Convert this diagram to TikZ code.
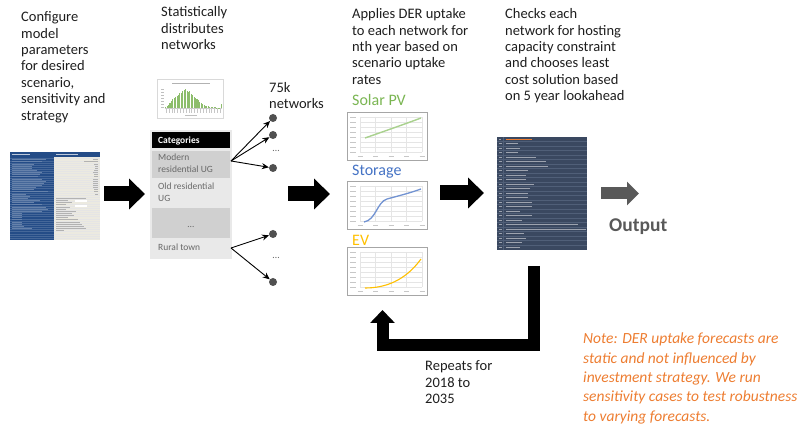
\documentclass[tikz,border=0pt]{standalone}
\usepackage{fontspec}
\setmainfont{Carlito}
\usetikzlibrary{arrows.meta}

\definecolor{txtdark}{RGB}{30,30,30}
\definecolor{catgray}{RGB}{105,105,105}
\definecolor{rowdark}{RGB}{208,208,208}
\definecolor{rowlight}{RGB}{233,233,233}
\definecolor{dotgray}{RGB}{80,80,80}
\definecolor{solargreen}{RGB}{122,181,82}
\definecolor{solarline}{RGB}{169,209,142}
\definecolor{storeblue}{RGB}{68,114,196}
\definecolor{storeline}{RGB}{114,147,210}
\definecolor{evgold}{RGB}{255,192,0}
\definecolor{notecol}{RGB}{237,125,49}
\definecolor{outgray}{RGB}{89,89,89}
\definecolor{cfgblue}{RGB}{36,76,135}
\definecolor{cfgbeige}{RGB}{236,234,224}
\definecolor{optbg}{RGB}{58,72,96}
\definecolor{optline}{RGB}{80,95,120}
\definecolor{histgreen}{RGB}{112,173,71}

\tikzset{
  desc/.style={anchor=north west, align=left, inner sep=0pt, text=txtdark,
    font=\fontsize{14.5}{16.4}\selectfont},
  cattext/.style={anchor=north west, align=left, inner sep=0pt, text=catgray,
    font=\fontsize{9.5}{11.5}\selectfont},
  netdot/.style={circle, fill=dotgray, inner sep=0pt, minimum size=8pt},
  fanarrow/.style={-{Stealth[length=7pt,width=6pt]}, line width=0.9pt, black},
  bigarrow/.style={line width=15pt, -{Triangle[length=16pt,width=30pt]}},
  chartbox/.style={draw=black!35, line width=0.6pt, fill=white},
  gridline/.style={draw=black!10, line width=0.3pt},
  ticklabel/.style={draw=black!22, line width=0.5pt},
  serieslabel/.style={anchor=west, inner sep=0pt, font=\fontsize{16}{18}\selectfont}
}

\begin{document}
\begin{tikzpicture}[x=1pt,y=-1pt]
\useasboundingbox (0,0) rectangle (807,430);

% ---------- step descriptions ----------
\node[desc] (t1) at (21,11.5) {Configure\\model\\parameters\\for desired\\scenario,\\sensitivity and\\strategy};
\node[desc] (t2) at (161,6.5) {Statistically\\distributes\\networks};
\node[desc] (t3) at (352,8.5) {Applies DER uptake\\to each network for\\nth year based on\\scenario uptake\\rates};
\node[desc] (t4) at (505,8.5) {Checks each\\network for hosting\\capacity constraint\\and chooses least\\cost solution based\\on 5 year lookahead};

% ---------- configuration sheet ----------
\fill[cfgblue] (10,152) rectangle (54,240);
\fill[cfgbeige] (54,157) rectangle (100,240);
\fill[cfgblue] (54,152) rectangle (100,157);
\foreach \k in {0,...,37}
  \draw[line width=0.2pt, draw=cfgblue!85!white] (10,{158.5+\k*2.15}) -- (54,{158.5+\k*2.15});
\foreach \k in {0,...,37}
  \draw[line width=0.2pt, draw=black!10] (54,{158.5+\k*2.15}) -- (100,{158.5+\k*2.15});
\draw[white!70!cfgblue, line width=0.8pt] (11.5,154.5) -- ++(18,0);
\draw[white!70!cfgblue, line width=0.8pt] (56,154.5) -- ++(22,0);
\foreach \l [count=\k] in {34,30,22,20,20,25,30,28,26,30,34,32,30,24,22,36,14,18,16,28,22,30,34,36,30,10,10,10,10,10,10,12,20}
  \draw[white!30!cfgblue, line width=0.6pt] (11.5,{157.4+\k*2.15}) -- ++(\l,0);
\foreach \l [count=\k] in {5,14,4,3,3,4,5,4,4,5,5,5,5,5,4,4,3}
  \draw[black!30, line width=0.6pt] (98,{157.4+\k*2.15}) -- ++(-\l,0);
\foreach \l [count=\k from 19] in {30,12,16,10,14,10,20,16,18,12,22,24,26,28,30,8}
  \draw[black!30, line width=0.6pt] (56,{157.4+\k*2.15}) -- ++(\l,0);
\fill[white] (75,200) rectangle (87,202.5);
\fill[white] (75,205) rectangle (87,207.5);

% ---------- histogram ----------
\node[draw=black!15, line width=0.4pt, minimum width=66pt, minimum height=39pt, inner sep=0pt] (hist) at (190.5,99) {};
\draw[black!30, line width=0.6pt] (172,83.5) -- (210,83.5);
\foreach \k in {0,...,6}
  \draw[black!25, line width=0.5pt] (161,{89+\k*3}) -- (164,{89+\k*3});
\draw[black!20, line width=0.3pt] (165,108) -- (222,108);
\foreach \h [count=\i] in {0.05,0.1,0.18,0.28,0.35,0.45,0.5,0.6,0.62,0.7,0.8,0.78,0.9,0.95,1.0,0.92,0.85,0.9,0.75,0.7,0.6,0.55,0.45,0.4,0.32,0.28,0.22,0.18,0.12,0.1,0.08,0.06,0.05,0.04,0.03,0.03,0.02,0.02,0.02,0.2}
  \fill[histgreen!80] ({163.8+\i*1.42},108) rectangle ++(1.05,{-19*\h});
\foreach \k in {0,...,19}
  \draw[black!22, line width=0.4pt] ({166+\k*2.85},109.5) -- ++(0,3.5);
\draw[black!25, line width=0.5pt] (185,115.5) -- (197,115.5);

% ---------- categories table ----------
\fill[rowlight] (150,130) rectangle (232,259);
\fill[black] (152,132) rectangle (230,148);
\node[anchor=west, inner sep=0pt, text=white, font=\bfseries\fontsize{9.5}{11}\selectfont] (cathead) at (158,140.5) {Categories};
\fill[rowdark] (152,151) rectangle (230,178);
\fill[rowlight] (152,178) rectangle (230,208);
\fill[rowdark] (152,208) rectangle (230,238);
\fill[rowlight] (152,238) rectangle (230,257);
\node[cattext] (cat1) at (158,154) {Modern\\residential UG};
\node[cattext] (cat2) at (158,183) {Old residential\\UG};
\node[anchor=center, inner sep=0pt, text=catgray, font=\fontsize{9.5}{11}\selectfont] (cat3) at (191,227) {\dots};
\node[cattext] (cat4) at (158,244) {Rural town};
\coordinate (fan1) at (231,161);
\coordinate (fan2) at (231,248);

% ---------- network dots ----------
\node[desc] (nets) at (269,82) {75k\\networks};
\node[netdot] (d1) at (273,118) {};
\node[netdot] (d2) at (273,135) {};
\node[netdot] (d3) at (273,168) {};
\node[netdot] (d4) at (273,234) {};
\node[netdot] (d5) at (273,282) {};
\node[inner sep=0pt, text=catgray, font=\fontsize{10}{11}\selectfont] at (276,151) {\dots};
\node[inner sep=0pt, text=catgray, font=\fontsize{10}{11}\selectfont] at (276,258) {\dots};
\draw[fanarrow] (fan1) -- (d1);
\draw[fanarrow] (fan1) -- (d2);
\draw[fanarrow] (fan1) -- (d3);
\draw[fanarrow] (fan2) -- (d4);
\draw[fanarrow] (fan2) -- (d5);

% ---------- uptake charts ----------
\node[serieslabel, text=solargreen] (lsolar) at (352,100) {Solar PV};
\node[serieslabel, text=storeblue] (lstore) at (352,172) {Storage};
\node[serieslabel, text=evgold] (lev) at (352,240) {EV};

\foreach \top/\nm in {112/csolar,181/cstore,247/cev} {
  \node[chartbox, anchor=north west, minimum width=80pt, minimum height=48pt, inner sep=0pt] (\nm) at (347,\top) {};
  \foreach \k in {0,...,7}
    \draw[gridline] (360,{\top+5+\k*5}) -- (422,{\top+5+\k*5});
  \foreach \k in {0,...,4}
    \draw[gridline] ({360+\k*15.5},{\top+5}) -- ({360+\k*15.5},{\top+40});
  \foreach \k in {0,...,7}
    \draw[ticklabel] (350,{\top+5+\k*5}) -- (356,{\top+5+\k*5});
  \foreach \k in {0,...,4}
    \draw[ticklabel] ({357.5+\k*15.5},{\top+44}) -- ++(5,0);
}
\draw[solarline, line width=1.4pt] (365,138) .. controls (385,131) and (405,124) .. (421,118);
\draw[storeline, line width=1.3pt] (364,222) .. controls (376,220) and (377,202) .. (387,199)
      .. controls (398,196) and (410,193) .. (421,189);
\draw[evgold, line width=1.1pt] (365,288) .. controls (385,288) and (405,281) .. (421,259);

% ---------- options sheet ----------
\node[fill=optbg, anchor=north west, minimum width=90pt, minimum height=113pt, inner sep=0pt] (opts) at (497,137) {};
\foreach \k in {1,...,24}
  \draw[optline, line width=0.35pt] (497,{137+\k*4.5}) -- (587,{137+\k*4.5});
\draw[optline, line width=0.35pt] (503,137) -- (503,250);
\draw[notecol, line width=0.8pt] (506,139.3) -- ++(26,0);
\draw[white!50!optbg, line width=0.7pt] (498.5,139.3) -- ++(2,0);
\foreach \l [count=\k] in {12,14,12,30,40,42,22,20,20,28,24,22,22,26,26,14,26,16,72,80,18,20,16,14}
  {\draw[white!50!optbg, line width=0.6pt] (498.5,{139.3+\k*4.5}) -- ++(3,0);
   \draw[white!50!optbg, line width=0.6pt] (506,{139.3+\k*4.5}) -- ++(\l,0);}

% ---------- output ----------
\node[anchor=west, inner sep=0pt, text=outgray, font=\bfseries\fontsize{19.5}{22}\selectfont] (out) at (609,227) {Output};

% ---------- main flow arrows ----------
\coordinate (a1s) at (104,194);  \coordinate (a1e) at (145,194);
\coordinate (a2s) at (288,194);  \coordinate (a2e) at (330,194);
\coordinate (a3s) at (440,193);  \coordinate (a3e) at (484,193);
\draw[bigarrow] (a1s) -- (a1e);
\draw[bigarrow] (a2s) -- (a2e);
\draw[bigarrow] (a3s) -- (a3e);
\coordinate (a4s) at (601,193.5); \coordinate (a4e) at (639,193.5);
\draw[outgray, line width=12pt, -{Triangle[length=12pt,width=23pt]}] (a4s) -- (a4e);

% ---------- yearly loop ----------
\coordinate (l1) at (534,266);
\coordinate (l2) at (534,345);
\coordinate (l3) at (382.5,345);
\coordinate (l4) at (382.5,310);
\draw[line width=12pt, line join=miter, -{Triangle[length=13pt,width=24pt]}] (l1) -- (l2) -- (l3) -- (l4);
\node[desc] (rep) at (425,360.5) {Repeats for\\2018 to\\2035};

% ---------- note ----------
\node[anchor=north west, align=left, inner sep=0pt, text=notecol, font=\itshape\fontsize{15.5}{19.3}\selectfont] (note) at (583,333) {Note: DER uptake forecasts are\\static and not influenced by\\investment strategy. We run\\sensitivity cases to test robustness\\to varying forecasts.};
\end{tikzpicture}
\end{document}
